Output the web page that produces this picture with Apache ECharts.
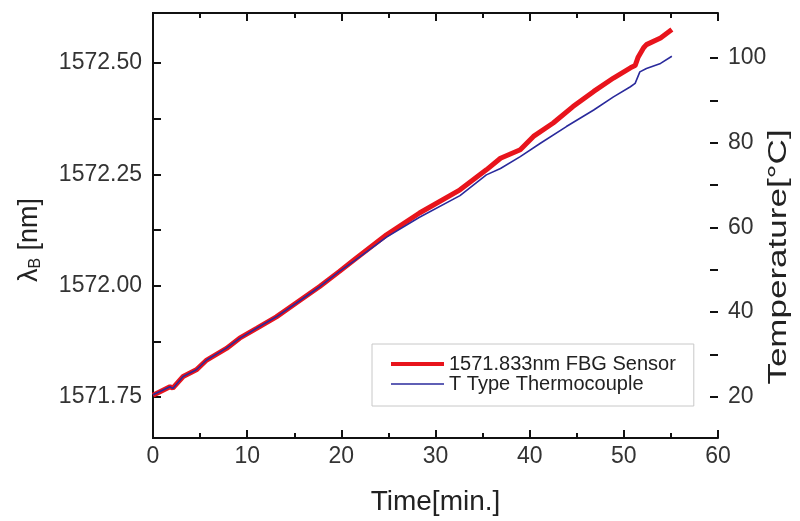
<!DOCTYPE html>
<html lang="en">
<head>
  <meta charset="UTF-8">
  <title>FBG vs thermocouple</title>
  <style>
    html, body { margin: 0; padding: 0; background: #fff; }
  </style>
</head>
<body>
  <div id="main" style="width:800px;height:521px;"></div>

  <script src="https://cdn.jsdelivr.net/npm/echarts@6/dist/echarts.min.js"></script>
  <script>
    // FBG sensor: time [min] and Bragg wavelength [nm]
    var fbgTime = [0, 1.8, 2.1, 3.2, 4.6, 5.7, 7.8, 9.2, 11.0, 13.1, 15.2, 17.7, 19.8, 21.3, 24.8, 28.3,
                   32.6, 35.4, 36.9, 39.0, 40.4, 42.5, 44.6, 46.8, 48.9, 50.7, 51.2, 51.5, 52.1, 52.4, 53.9, 55.1]
    var fbgWave = [1571.754, 1571.773, 1571.770, 1571.796, 1571.811, 1571.833, 1571.859, 1571.882, 1571.904,
                   1571.930, 1571.961, 1571.998, 1572.032, 1572.057, 1572.114, 1572.163, 1572.215, 1572.260,
                   1572.286, 1572.305, 1572.335, 1572.365, 1572.402, 1572.436, 1572.466, 1572.489, 1572.494,
                   1572.512, 1572.534, 1572.541, 1572.556, 1572.575]

    // T type thermocouple: time [min] and temperature [°C]
    var tcTime = [0, 1.8, 2.1, 3.2, 4.6, 5.7, 7.8, 9.2, 11.0, 13.1, 15.2, 17.7, 19.8, 21.3, 24.8, 28.3,
                  32.6, 35.4, 36.9, 39.0, 41.1, 43.9, 46.8, 48.9, 50.7, 51.2, 51.7, 52.4, 53.9, 55.1]
    var tcTemp = [20.5, 22.4, 22.0, 24.8, 26.4, 28.7, 31.5, 33.8, 36.2, 38.9, 42.1, 46.0, 49.6, 52.0, 57.7, 62.4,
                  67.5, 72.4, 73.9, 76.7, 79.8, 83.8, 87.7, 90.8, 93.2, 94.0, 96.7, 97.5, 98.7, 100.4]

    // tick labels
    var waveTicks = [1571.75, 1572.00, 1572.25, 1572.50]
    var waveMinor = [1571.75, 1571.875, 1572.00, 1572.125, 1572.25, 1572.375, 1572.50]
    var tempTicks = [20, 40, 60, 80, 100]
    var tempMinor = [20, 30, 40, 50, 60, 70, 80, 90, 100]

    var waveRange = [1571.658, 1572.612]
    var tempRange = [10.3, 110.6]

    function pairs(xs, ys) {
      return xs.map(function (x, i) { return [x, ys[i]] })
    }

    var font = '"Liberation Sans", Arial, sans-serif'
    var lineBlack = { show: true, lineStyle: { color: '#111', width: 2 } }
    var tickBlack = { color: '#111', width: 2 }
    var redColor = '#e8141c'
    var blueColor = '#2a2a9c'
    var plotWidth = 800 - 153 - 82

    var myChart = echarts.init(document.getElementById('main'))

    var options = {
      animation: false,
      backgroundColor: '#fff',
      textStyle: { fontFamily: font },
      grid: { left: 153, top: 13, right: 82, bottom: 83 },
      legend: {
        orient: 'vertical',
        left: 372,
        top: 344,
        padding: [10, 18, 12, 17],
        itemGap: 0,
        itemWidth: 53,
        itemHeight: 14,
        borderColor: '#c8c8c8',
        borderWidth: 1,
        itemStyle: { opacity: 0 },
        textStyle: { fontFamily: font, fontSize: 20, lineHeight: 18, color: '#222' },
        data: [
          { name: '1571.833nm FBG Sensor', lineStyle: { width: 4 } },
          { name: 'T Type Thermocouple', lineStyle: { width: 1.6 } }
        ]
      },
      // axis titles drawn as text so they can be stretched like the scanned figure
      graphic: [
        {
          type: 'text',
          x: 30,
          y: 240,
          rotation: Math.PI / 2,
          style: {
            text: '{l|λ}{s|B}{l| [nm]}',
            align: 'center',
            verticalAlign: 'middle',
            rich: {
              l: { fontSize: 27, fill: '#222', fontFamily: font },
              s: { fontSize: 16, fill: '#222', fontFamily: font, padding: [12, 0, 0, 0] }
            }
          }
        },
        {
          type: 'text',
          x: 779,
          y: 257,
          rotation: Math.PI / 2,
          scaleX: 1.4,
          style: {
            text: 'Temperature[°C]',
            align: 'center',
            verticalAlign: 'middle',
            fontSize: 25,
            fill: '#222',
            fontFamily: font
          }
        }
      ],
      xAxis: [
        {
          type: 'value',
          position: 'bottom',
          min: 0,
          max: 60,
          interval: 10,
          name: 'Time[min.]',
          nameLocation: 'middle',
          nameGap: 50,
          nameTextStyle: { fontSize: 28, color: '#222' },
          axisLine: lineBlack,
          axisTick: { inside: true, length: 8, lineStyle: tickBlack },
          minorTick: { show: true, splitNumber: 2, length: 5, lineStyle: tickBlack },
          axisLabel: { fontSize: 23, color: '#333', margin: 7 },
          splitLine: { show: false }
        },
        {
          type: 'value',
          position: 'top',
          min: 0,
          max: 60,
          interval: 10,
          axisLine: lineBlack,
          axisTick: { inside: true, length: 8, lineStyle: tickBlack },
          minorTick: { show: true, splitNumber: 2, length: 5, lineStyle: tickBlack },
          axisLabel: { show: false },
          splitLine: { show: false }
        }
      ],
      yAxis: [
        {
          type: 'value',
          position: 'left',
          min: waveRange[0],
          max: waveRange[1],
          axisLine: lineBlack,
          axisTick: { show: false },
          axisLabel: {
            fontSize: 23,
            color: '#333',
            margin: 11,
            customValues: waveTicks,
            formatter: function (v) { return v.toFixed(2) }
          },
          splitLine: { show: false }
        },
        {
          type: 'value',
          position: 'right',
          min: tempRange[0],
          max: tempRange[1],
          axisLine: lineBlack,
          axisTick: { show: false },
          axisLabel: { fontSize: 23, color: '#333', margin: 10, customValues: tempTicks },
          splitLine: { show: false }
        },
        // tick-only copies placed on the opposite edge so the ticks point into the plot
        {
          type: 'value',
          position: 'right',
          offset: -plotWidth,
          min: waveRange[0],
          max: waveRange[1],
          axisLine: { show: false },
          axisTick: { show: true, length: 8, customValues: waveMinor, lineStyle: tickBlack },
          axisLabel: { show: false },
          splitLine: { show: false }
        },
        {
          type: 'value',
          position: 'left',
          offset: -plotWidth,
          min: tempRange[0],
          max: tempRange[1],
          axisLine: { show: false },
          axisTick: { show: true, length: 8, customValues: tempMinor, lineStyle: tickBlack },
          axisLabel: { show: false },
          splitLine: { show: false }
        }
      ],
      series: [
        {
          name: '1571.833nm FBG Sensor',
          type: 'line',
          xAxisIndex: 0,
          yAxisIndex: 0,
          symbol: 'none',
          lineStyle: { color: redColor, width: 5 },
          itemStyle: { color: redColor },
          data: pairs(fbgTime, fbgWave)
        },
        {
          name: 'T Type Thermocouple',
          type: 'line',
          xAxisIndex: 0,
          yAxisIndex: 1,
          symbol: 'none',
          lineStyle: { color: blueColor, width: 1.6 },
          itemStyle: { color: blueColor },
          data: pairs(tcTime, tcTemp)
        }
      ]
    }

    myChart.setOption(options)
  </script>
</body>
</html>
